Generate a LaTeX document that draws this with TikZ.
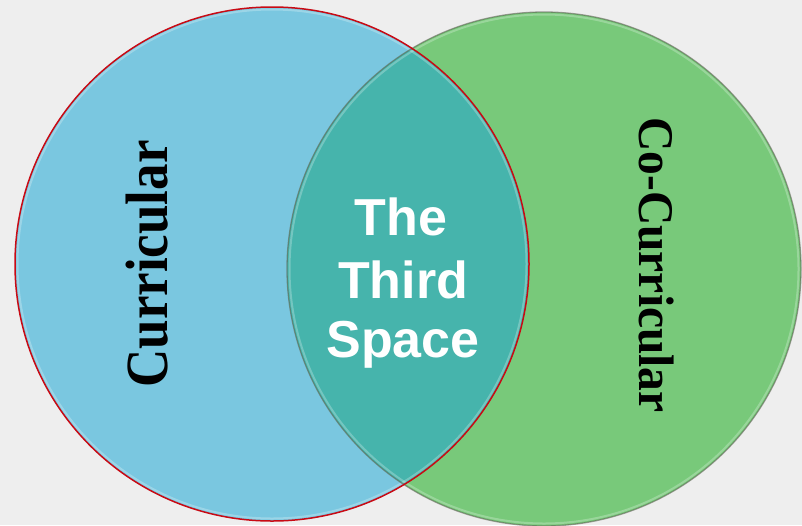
\documentclass[tikz,border=0pt]{standalone}
\usepackage{fontspec}
\usepackage{graphicx}
\setmainfont{Liberation Serif}
\newfontfamily\labelsans{Liberation Sans}
\definecolor{bg}{RGB}{238,238,238}
\definecolor{cblue}{RGB}{122,199,224}
\definecolor{cgreen}{RGB}{120,201,122}
\definecolor{cteal}{RGB}{70,180,172}
\definecolor{cred}{RGB}{200,10,20}
\definecolor{cgrey}{RGB}{95,100,85}
\tikzset{
  sidelabel/.style={anchor=base, inner sep=0pt, text=black},
  thirdtext/.style={anchor=base, inner sep=0pt, text=white,
    font=\labelsans\bfseries\fontsize{52}{61}\selectfont},
}
\begin{document}
\begin{tikzpicture}[x=1pt,y=-1pt]
\useasboundingbox (0,0) rectangle (802,525);
\fill[bg] (0,0) rectangle (802,525);
\coordinate (L) at (272,264);
\coordinate (R) at (544,269);
% fills
\fill[cblue] (L) circle[radius=257pt];
\fill[cgreen] (R) circle[radius=257pt];
\begin{scope}
  \clip (L) circle[radius=257pt];
  \fill[cteal] (R) circle[radius=257pt];
\end{scope}
% soft inner highlights
\draw[white, opacity=0.25, line width=2pt] (L) circle[radius=254.5pt];
\draw[white, opacity=0.25, line width=2pt] (R) circle[radius=254.5pt];
% outlines
\draw[cgrey, opacity=0.6, line width=1.3pt] (R) circle[radius=257pt];
\draw[cred, line width=1.5pt] (L) circle[radius=257pt];
% side labels
\node[sidelabel, rotate=90, font=\bfseries\fontsize{53}{53}\selectfont] (cur) at (167,264) {\scalebox{1}[1.13]{Curricular}};
\node[sidelabel, rotate=-90, font=\bfseries\fontsize{47.5}{47.5}\selectfont] (cocur) at (639,265) {\scalebox{1}[1.05]{Co-Curricular}};
% centre text
\node[thirdtext] (t1) at (401,235) {The};
\node[thirdtext] (t2) at (403,298) {Third};
\node[thirdtext] (t3) at (403,357) {Space};
\end{tikzpicture}
\end{document}
